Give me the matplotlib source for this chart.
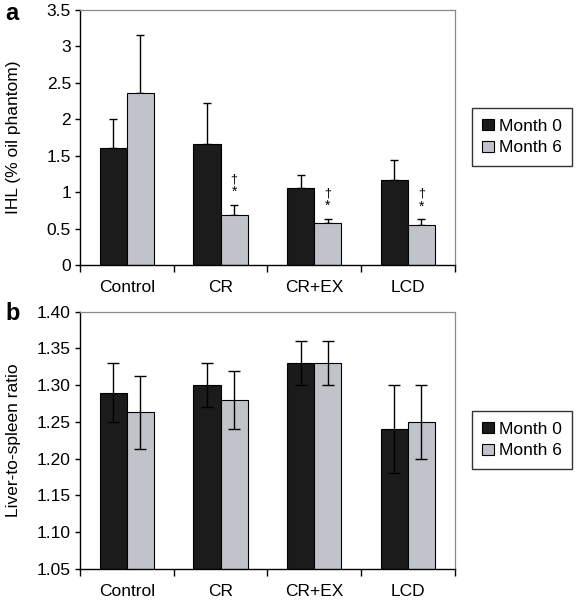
import numpy as np
import matplotlib.pyplot as plt
from matplotlib.patches import Patch

plt.rcParams['font.family'] = ['Liberation Sans', 'DejaVu Sans']

groups = ["Control", "CR", "CR+EX", "LCD"]
series = ["Month 0", "Month 6"]

# panel a: IHL (% oil phantom)
ihl_m0 = [1.61, 1.66, 1.06, 1.17]
ihl_m6 = [2.36, 0.69, 0.575, 0.545]
ihl_m0_err = [0.39, 0.56, 0.18, 0.27]
ihl_m6_err = [0.80, 0.14, 0.06, 0.085]
ihl_sig = [False, True, True, True]

# panel b: liver-to-spleen ratio
ls_m0 = [1.29, 1.30, 1.33, 1.24]
ls_m6 = [1.263, 1.28, 1.33, 1.25]
ls_m0_err = [0.04, 0.03, 0.03, 0.06]
ls_m6_err = [0.05, 0.04, 0.03, 0.05]

c_dark = "#1b1b1b"
c_light = "#c0c3c9"
w = 0.29
fs = 12.5

fig = plt.figure(figsize=(5.77, 6.0), dpi=100)
ax_a = fig.add_axes([0.1386, 0.5583, 0.6495, 0.425])
ax_b = fig.add_axes([0.1386, 0.0517, 0.6495, 0.4288])


def style_axes(ax):
    ax.set_xlim(-0.5, 3.5)
    ax.set_xticks(range(4))
    ax.set_xticklabels(groups, fontsize=fs)
    ax.tick_params(axis="x", which="major", length=0, pad=10.5)
    ax.set_xticks(np.arange(-0.5, 4, 1), minor=True)
    ax.tick_params(axis="x", which="minor", length=5, width=1, direction="out")
    ax.tick_params(axis="y", length=3.5, width=1, direction="out", labelsize=fs, pad=3)
    for s in ["top", "right"]:
        ax.spines[s].set_color("#8a8a8a")
        ax.spines[s].set_linewidth(0.9)
    for s in ["left", "bottom"]:
        ax.spines[s].set_linewidth(1.0)
    ax.yaxis.set_label_coords(-0.157, 0.5)


x = np.arange(len(groups))

# panel a
ax_a.bar(x - w / 2, ihl_m0, w, color=c_dark, edgecolor="black", linewidth=0.8, zorder=2)
ax_a.bar(x + w / 2, ihl_m6, w, color=c_light, edgecolor="black", linewidth=0.8, zorder=2)
ax_a.errorbar(x - w / 2, ihl_m0, yerr=[np.zeros(4), ihl_m0_err], fmt="none",
              ecolor="black", elinewidth=1, capsize=3, capthick=1, zorder=1)
ax_a.errorbar(x + w / 2, ihl_m6, yerr=[np.zeros(4), ihl_m6_err], fmt="none",
              ecolor="black", elinewidth=1, capsize=3, capthick=1, zorder=1)
for i in range(4):
    if ihl_sig[i]:
        top = ihl_m6[i] + ihl_m6_err[i]
        ax_a.annotate("*", (x[i] + w / 2, top), xytext=(0, 4), textcoords="offset points",
                      ha="center", va="bottom", fontsize=10)
        ax_a.annotate("†", (x[i] + w / 2, top), xytext=(0, 14), textcoords="offset points",
                      ha="center", va="bottom", fontsize=9)
ax_a.set_ylim(0, 3.5)
ax_a.set_yticks([0, 0.5, 1, 1.5, 2, 2.5, 3, 3.5])
ax_a.set_yticklabels(["0", "0.5", "1", "1.5", "2", "2.5", "3", "3.5"])
ax_a.set_ylabel("IHL (% oil phantom)", fontsize=fs)
style_axes(ax_a)

# panel b
ax_b.bar(x - w / 2, ls_m0, w, color=c_dark, edgecolor="black", linewidth=0.8, zorder=2)
ax_b.bar(x + w / 2, ls_m6, w, color=c_light, edgecolor="black", linewidth=0.8, zorder=2)
ax_b.errorbar(x - w / 2, ls_m0, yerr=ls_m0_err, fmt="none",
              ecolor="black", elinewidth=1, capsize=4.5, capthick=1, zorder=3)
ax_b.errorbar(x + w / 2, ls_m6, yerr=ls_m6_err, fmt="none",
              ecolor="black", elinewidth=1, capsize=4.5, capthick=1, zorder=3)
ax_b.set_ylim(1.05, 1.40)
ax_b.set_yticks(np.arange(1.05, 1.401, 0.05))
ax_b.set_yticklabels([f"{v:.2f}" for v in np.arange(1.05, 1.401, 0.05)])
ax_b.set_ylabel("Liver-to-spleen ratio", fontsize=fs)
style_axes(ax_b)

handles = [Patch(facecolor=c_dark, edgecolor="black", linewidth=0.8, label=series[0]),
           Patch(facecolor=c_light, edgecolor="black", linewidth=0.8, label=series[1])]
for yc in [1 - 137 / 600, 1 - 440 / 600]:
    fig.legend(handles=handles, loc="center", bbox_to_anchor=(522 / 577, yc),
               fontsize=fs, frameon=True, fancybox=False, edgecolor="black",
               handlelength=0.65, handleheight=0.65, handletextpad=0.3,
               borderpad=0.6, labelspacing=0.4,
               borderaxespad=0).get_frame().set_linewidth(1.0)

fig.text(5 / 577, 1 - 20 / 600, "a", fontsize=17, fontweight="bold", va="baseline")
fig.text(5 / 577, 1 - 320 / 600, "b", fontsize=17, fontweight="bold", va="baseline")

fig.savefig("out.png", dpi=100)
